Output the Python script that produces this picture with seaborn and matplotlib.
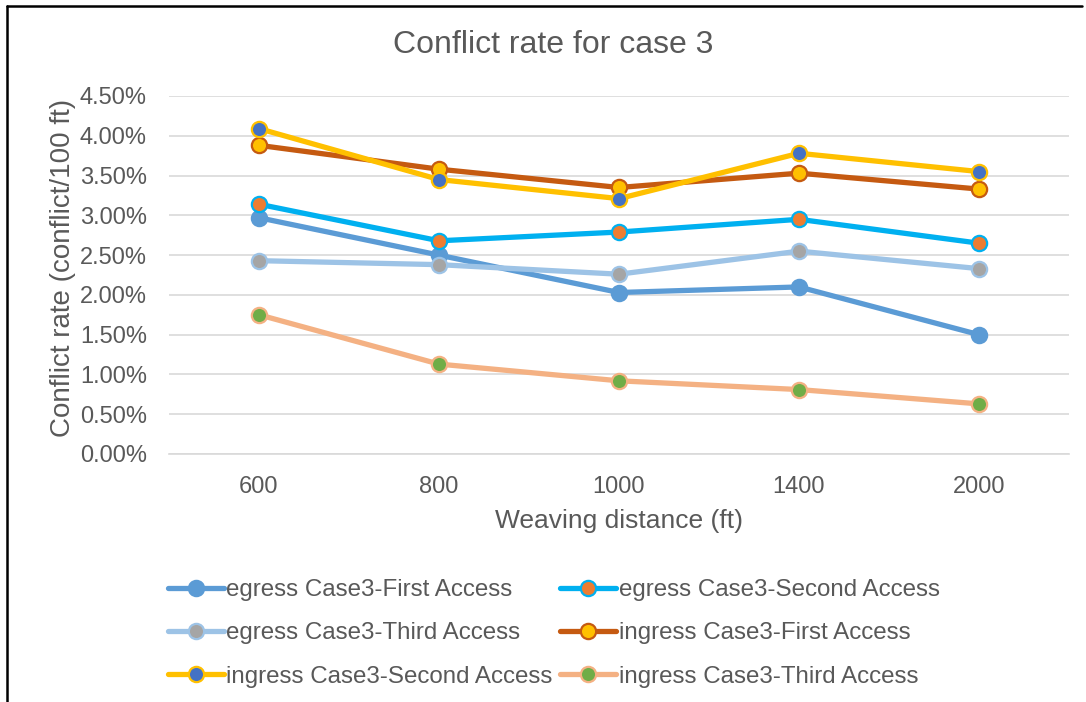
import matplotlib
matplotlib.use("Agg")
import matplotlib.pyplot as plt
from matplotlib.lines import Line2D
import seaborn as sns
import pandas as pd

# Weaving distances (ft) and conflict rates (%) per access / direction
distances = ["600", "800", "1000", "1400", "2000"]
egress_first = [2.97, 2.50, 2.03, 2.10, 1.50]
egress_second = [3.14, 2.68, 2.79, 2.95, 2.65]
egress_third = [2.43, 2.38, 2.26, 2.55, 2.33]
ingress_first = [3.88, 3.58, 3.35, 3.53, 3.33]
ingress_second = [4.09, 3.45, 3.21, 3.78, 3.55]
ingress_third = [1.75, 1.13, 0.92, 0.81, 0.63]

series_names = [
    "egress Case3-First Access",
    "egress Case3-Second Access",
    "egress Case3-Third Access",
    "ingress Case3-First Access",
    "ingress Case3-Second Access",
    "ingress Case3-Third Access",
]
series_values = [egress_first, egress_second, egress_third,
                 ingress_first, ingress_second, ingress_third]

# (line colour, marker face colour)
styles = [
    ("#5B9BD5", "#5B9BD5"),
    ("#00B0F0", "#ED7D31"),
    ("#9DC3E6", "#A5A5A5"),
    ("#C55A11", "#FFC000"),
    ("#FFC000", "#4472C4"),
    ("#F4B183", "#70AD47"),
]

sns.set_theme(style="white")
plt.rcParams["font.family"] = ["Liberation Sans", "DejaVu Sans"]
text_color = "#595959"

W, H = 1086, 702
fig = plt.figure(figsize=(W / 100, H / 100), dpi=100)
ax = fig.add_axes([169 / W, 1 - 454 / H, 900 / W, 358 / H])

for name, vals, (lc, fc) in zip(series_names, series_values, styles):
    df = pd.DataFrame({"distance": distances, "rate": [v / 100 for v in vals]})
    sns.lineplot(data=df, x="distance", y="rate", ax=ax, color=lc, lw=3.8,
                 marker="o", markersize=11, markerfacecolor=fc,
                 markeredgecolor=lc, markeredgewidth=1.6, label=name,
                 sort=False, zorder=3)

ax.set_xlim(-0.5, len(distances) - 0.5)
ax.set_ylim(0, 0.045)
yt = [i * 0.005 for i in range(10)]
ax.set_yticks(yt)
ax.set_yticklabels([f"{t * 100:.2f}%" for t in yt])
ax.grid(axis="y", color="#D9D9D9", lw=1.2, zorder=0)
ax.grid(axis="x", visible=False)
for s in ["top", "right", "left"]:
    ax.spines[s].set_visible(False)
ax.spines["bottom"].set_color("#D9D9D9")
ax.spines["bottom"].set_linewidth(1.2)
ax.tick_params(axis="both", length=0, labelsize=17, labelcolor=text_color)
ax.tick_params(axis="x", pad=16)
ax.tick_params(axis="y", pad=16)

ax.set_xlabel("Weaving distance (ft)", fontsize=19, color=text_color, labelpad=8)
ax.set_ylabel("Conflict rate (conflict/100 ft)", fontsize=20, color=text_color, labelpad=5)
ax.yaxis.set_label_coords(-0.103, 0.52)

fig.text(553 / W, 1 - 45 / H, "Conflict rate for case 3", ha="center", va="center",
         fontsize=23, color=text_color)

handles, labels = ax.get_legend_handles_labels()
order = [0, 2, 4, 1, 3, 5]
ax.legend([handles[i] for i in order], [labels[i] for i in order],
          loc="upper left", bbox_to_anchor=(168 / W, 1 - 579 / H),
          bbox_transform=fig.transFigure, ncol=2, frameon=False,
          fontsize=17.4, labelcolor=text_color, handlelength=2.3,
          handletextpad=0.12, columnspacing=0.3, labelspacing=0.88,
          borderaxespad=0, borderpad=0)

# outer frame on the top and left edges
fig.add_artist(Line2D([7 / W, 1082 / W], [1 - 6 / H, 1 - 6 / H],
                      transform=fig.transFigure, color="black", lw=1.8))
fig.add_artist(Line2D([7 / W, 7 / W], [1 - 6 / H, 0],
                      transform=fig.transFigure, color="black", lw=1.8))

fig.savefig("out.png", dpi=100, facecolor="white")
